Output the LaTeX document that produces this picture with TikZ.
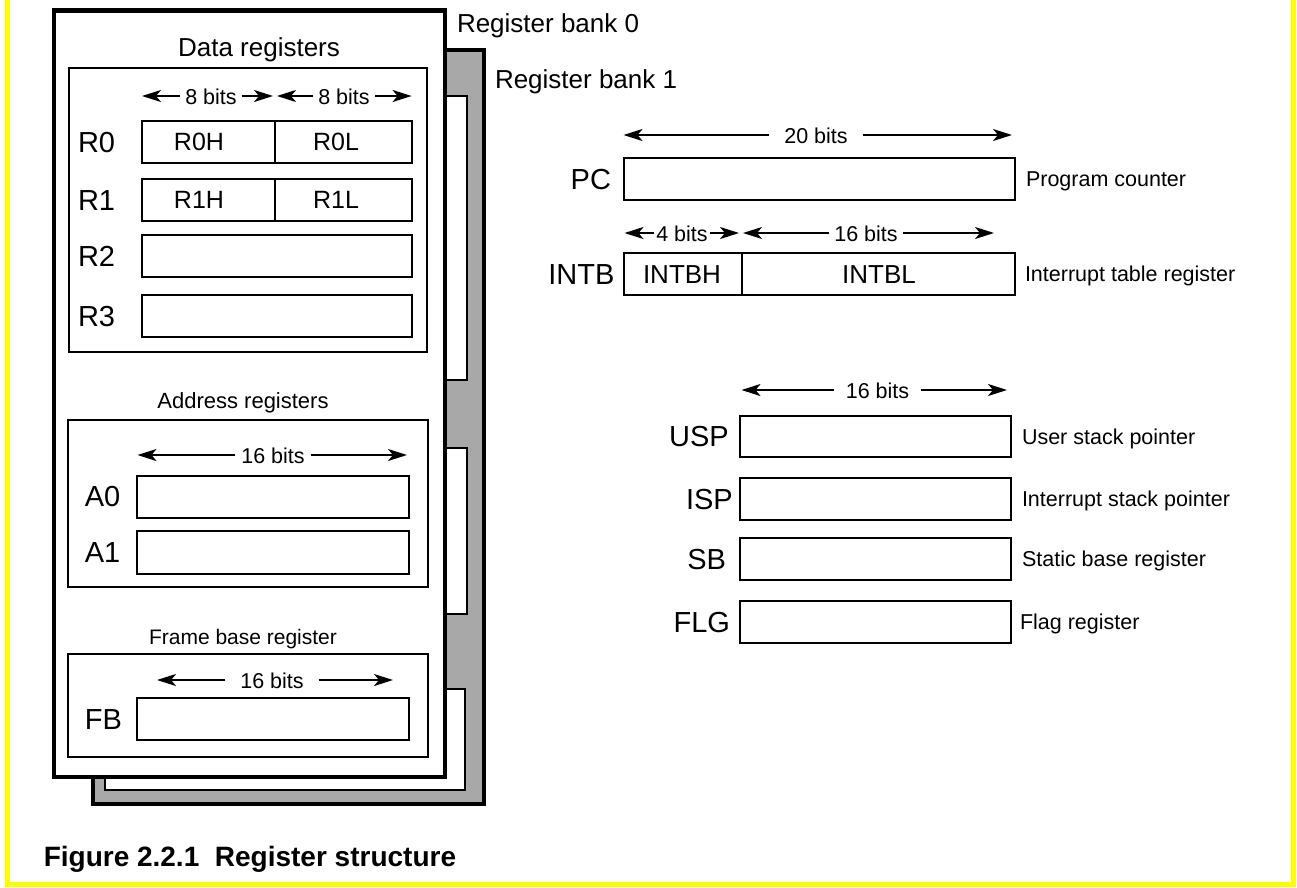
\documentclass[tikz,border=0pt]{standalone}
\usepackage{fontspec}
\setmainfont{Liberation Sans}
\usetikzlibrary{arrows.meta}
\newcommand\fsz[1]{\fontsize{#1}{#1}\selectfont}
\definecolor{bankgray}{RGB}{168,168,168}
\definecolor{frameyellow}{RGB}{255,255,0}
\newcommand\rbx[6][rbox]{\node[#1, minimum width={(#5-#3)*1pt}, minimum height={(#6-#4)*1pt}] (#2) at (#3,#4) {};}
\begin{document}
\begin{tikzpicture}[x=1pt,y=-1pt,
  tx/.style={inner sep=0pt, outer sep=0pt, font=\fsz{#1}, text height=#1*0.716pt, text depth=0pt},
  bank/.style={draw, line width=4.3pt, inner sep=0pt, outer sep=0pt, anchor=north west},
  rbox/.style={draw, line width=2pt, fill=white, inner sep=0pt, outer sep=0pt, anchor=north west},
  dim/.style={line width=2pt, -{Stealth[length=19pt,width=12pt,inset=5pt]}},
  yline/.style={draw=frameyellow, line width=4.5pt}
]
\useasboundingbox (0,0) rectangle (1297,887);
% yellow frame
\draw[yline] (7.6,0) -- (7.6,884.5) -- (1293.5,884.5) -- (1293.5,0);

% register bank 1 (behind)
\rbx[bank, fill=bankgray]{bankone}{92.8}{49.7}{483.7}{804.3}
\rbx{bonedata}{109.3}{96}{467}{380}
\rbx{boneaddr}{109.3}{448}{467}{614}
\rbx{bonefb}{105.3}{689}{464.5}{790}

% register bank 0
\rbx[bank, fill=white]{bankzero}{53.8}{10.5}{445}{776.7}
\node[tx=26, anchor=west] (bzt) at (457,23) {Register bank 0};
\node[tx=26, anchor=west] (bot) at (495,79) {Register bank 1};

% data registers
\node[tx=26] (datat) at (259,46.7) {Data registers};
\rbx{databox}{69.3}{68}{427}{352}
\coordinate (a1l) at (142,96); \coordinate (a1r) at (273,96);
\node[tx=21.5, inner xsep=5pt] (a1t) at (211,97) {8 bits};
\draw[dim] (a1t.west |- a1l) -- (a1l);
\draw[dim] (a1t.east |- a1r) -- (a1r);
\coordinate (a2l) at (277,96); \coordinate (a2r) at (411.6,96);
\node[tx=21.5, inner xsep=5pt] (a2t) at (344,97) {8 bits};
\draw[dim] (a2t.west |- a2l) -- (a2l);
\draw[dim] (a2t.east |- a2r) -- (a2r);

\rbx{r0h}{142}{121}{275}{163}
\rbx{r0l}{275}{121}{412}{163}
\rbx{r1h}{142}{179}{275}{221}
\rbx{r1l}{275}{179}{412}{221}
\rbx{r2}{142}{235}{412}{277}
\rbx{r3}{142}{295}{412}{337}
\node[tx=25] (r0ht) at (199,142) {R0H};
\node[tx=25] (r0lt) at (336,142) {R0L};
\node[tx=25] (r1ht) at (199,200) {R1H};
\node[tx=25] (r1lt) at (336,200) {R1L};
\node[tx=29, anchor=west] (r0n) at (78,142) {R0};
\node[tx=29, anchor=west] (r1n) at (78,200) {R1};
\node[tx=29, anchor=west] (r2n) at (78,256) {R2};
\node[tx=29, anchor=west] (r3n) at (78,316) {R3};

% address registers
\node[tx=22] (addrt) at (243,401) {Address registers};
\rbx{addrbox}{68.3}{420}{427.7}{587.3}
\coordinate (a3l) at (137.5,455); \coordinate (a3r) at (407,455);
\node[tx=21.5, inner xsep=6pt] (a3t) at (273,456) {16 bits};
\draw[dim] (a3t.west |- a3l) -- (a3l);
\draw[dim] (a3t.east |- a3r) -- (a3r);
\rbx{a0}{137}{476}{409}{517.5}
\rbx{a1}{137}{531}{409}{573.5}
\node[tx=29, anchor=west] (a0n) at (84.8,496.5) {A0};
\node[tx=29, anchor=west] (a1n) at (84.8,552) {A1};

% frame base register
\node[tx=21] (fbt) at (243,637) {Frame base register};
\rbx{fbbox}{68.3}{654}{427.7}{756.7}
\coordinate (a4l) at (157,680); \coordinate (a4r) at (393,680);
\node[tx=21.5, inner xsep=15pt] (a4t) at (272,681) {16 bits};
\draw[dim] (a4t.west |- a4l) -- (a4l);
\draw[dim] (a4t.east |- a4r) -- (a4r);
\rbx{fb}{137}{698}{409}{740}
\node[tx=29, anchor=west] (fbn) at (84.8,719) {FB};

% PC
\coordinate (pcl) at (623.5,135); \coordinate (pcr) at (1012,135);
\node[tx=21.5, inner xsep=15pt] (pct) at (816,136) {20 bits};
\draw[dim] (pct.west |- pcl) -- (pcl);
\draw[dim] (pct.east |- pcr) -- (pcr);
\rbx{pc}{623.5}{158}{1015}{200}
\node[tx=29, anchor=east] (pcn) at (611,179) {PC};
\node[tx=21.5, anchor=west] (pcd) at (1026,179) {Program counter};

% INTB
\coordinate (ib1l) at (624.5,233); \coordinate (ib1r) at (739,233);
\node[tx=21.5, inner xsep=2pt] (ib1t) at (682,234) {4 bits};
\draw[dim] (ib1t.west |- ib1l) -- (ib1l);
\draw[dim] (ib1t.east |- ib1r) -- (ib1r);
\coordinate (ib2l) at (743,233); \coordinate (ib2r) at (994,233);
\node[tx=21.5, inner xsep=5pt] (ib2t) at (866,234) {16 bits};
\draw[dim] (ib2t.west |- ib2l) -- (ib2l);
\draw[dim] (ib2t.east |- ib2r) -- (ib2r);
\rbx{intbh}{623.5}{253}{741.5}{294.5}
\rbx{intbl}{741.5}{253}{1015}{294.5}
\node[tx=26] (intbht) at (682,274) {INTBH};
\node[tx=26] (intblt) at (879,274) {INTBL};
\node[tx=29, anchor=east] (intbn) at (614.4,274) {INTB};
\node[tx=21.5, anchor=west] (intbd) at (1025,274) {Interrupt table register};

% stack pointers etc.
\coordinate (spl) at (741.5,390); \coordinate (spr) at (1007,390);
\node[tx=21.5, inner xsep=12pt] (spt) at (877.5,391) {16 bits};
\draw[dim] (spt.west |- spl) -- (spl);
\draw[dim] (spt.east |- spr) -- (spr);
\rbx{usp}{739.5}{415.7}{1011}{457.3}
\rbx{isp}{739.5}{478.3}{1011}{520}
\rbx{sb}{739.5}{538.3}{1011}{580}
\rbx{flg}{739.5}{600.7}{1011}{642.7}
\node[tx=29, anchor=east] (uspn) at (728.8,436.5) {USP};
\node[tx=29, anchor=east] (ispn) at (732.8,499) {ISP};
\node[tx=29, anchor=east] (sbn) at (726,559) {SB};
\node[tx=29, anchor=east] (flgn) at (730,621.7) {FLG};
\node[tx=21.5, anchor=west] (uspd) at (1022,436.5) {User stack pointer};
\node[tx=21.5, anchor=west] (ispd) at (1022,499) {Interrupt stack pointer};
\node[tx=21.5, anchor=west] (sbd) at (1022,559) {Static base register};
\node[tx=21.5, anchor=west] (flgd) at (1020,621.7) {Flag register};

% caption
\node[tx=28, font=\fsz{28}\bfseries, anchor=west] (cap) at (43.75,856) {Figure 2.2.1\ \ Register structure};
\end{tikzpicture}
\end{document}
